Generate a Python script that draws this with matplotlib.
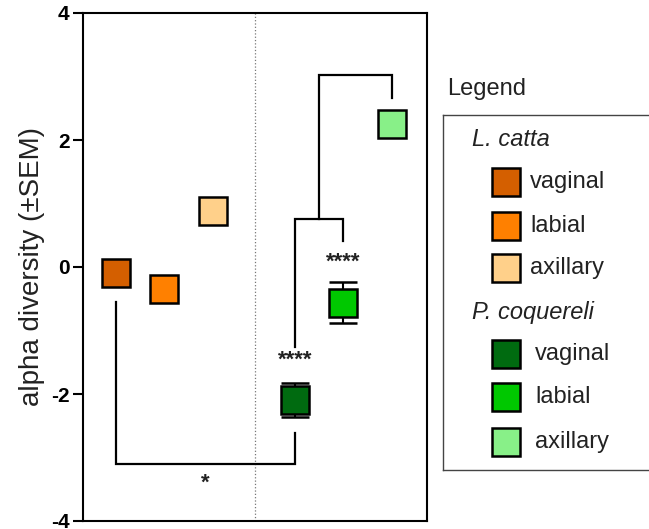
import matplotlib.pyplot as plt

plt.rcParams['font.family'] = ['Liberation Sans', 'DejaVu Sans']

# data
groups = ['vaginal', 'labial', 'axillary']
species = ['L. catta', 'P. coquereli']
x_pos = [1.0, 2.0, 3.0, 4.68, 5.68, 6.68]
means = [-0.10, -0.35, 0.88, -2.10, -0.56, 2.25]
sems = [0.20, 0.10, 0.10, 0.27, 0.32, 0.10]
colors = ['#d45f00', '#ff8000', '#ffd08a', '#006b10', '#00c800', '#88f088']

# significance brackets: (x left, x right, y left end, y right end, y bar)
brackets = [
    (1.0, 4.68, -0.55, -2.61, -3.10),
    (4.68, 5.68, -1.26, 0.41, 0.75),
    (5.18, 6.68, 0.75, 2.66, 3.03),
]
stars = [('*', 2.84, -3.40), ('****', 4.68, -1.47), ('****', 5.68, 0.07)]

fig = plt.figure(figsize=(6.49, 5.29), dpi=100)
ax = fig.add_axes([82.7 / 649, 8 / 529, 344.3 / 649, 508 / 529])

ax.errorbar(x_pos, means, yerr=sems, fmt='none', ecolor='black',
            elinewidth=1.5, capsize=10, capthick=1.8, zorder=2)
for x, m, c in zip(x_pos, means, colors):
    ax.plot(x, m, marker='s', markersize=20.5, markerfacecolor=c,
            markeredgecolor='black', markeredgewidth=1.8, zorder=3)

for xl, xr, yl, yr, yb in brackets:
    ax.plot([xl, xl, xr, xr], [yl, yb, yb, yr], color='black', lw=1.6,
            solid_joinstyle='miter', zorder=1)
for s, x, y in stars:
    ax.text(x, y, s, ha='center', va='center', fontsize=16, fontweight='bold',
            color='#222222')

ax.set_xlim(0.319, 7.40)
ax.set_ylim(-4, 4)
ax.axvline(sum(ax.get_xlim()) / 2, color='#777777', lw=0.9, ls=':', zorder=0)

ax.set_xticks([])
ax.set_yticks([-4, -2, 0, 2, 4])
ax.set_yticklabels(['-4', '-2', '0', '2', '4'], fontweight='bold', fontsize=15)
ax.tick_params(axis='y', length=7.5, width=1.5, pad=2)
for sp in ax.spines.values():
    sp.set_linewidth(1.5)
ax.set_ylabel('alpha diversity (\u00b1SEM)', fontsize=20, color='#222222', labelpad=4)

# legend drawn by hand in pixel coordinates
lax = fig.add_axes([443 / 649, 59 / 529, 226 / 649, 355 / 529])
lax.set_xlim(443, 669)
lax.set_ylim(470, 115)
lax.set_xticks([])
lax.set_yticks([])
for sp in lax.spines.values():
    sp.set_color('#444444')
    sp.set_linewidth(1.0)

fig.text(447 / 649, 1 - 89 / 529, 'Legend', fontsize=17, va='center', color='#222222')
header_y = [139, 313]
item_y = [182, 226, 268.5, 354.5, 397.5, 442]
text_x = [530, 530, 530, 535, 535, 535]
for sp_name, hy in zip(species, header_y):
    lax.text(472, hy, sp_name, style='italic', fontsize=17, va='center', color='#222222')
for i, (c, y) in enumerate(zip(colors, item_y)):
    lax.plot(506, y, marker='s', markersize=20.5, markerfacecolor=c,
             markeredgecolor='black', markeredgewidth=1.8, clip_on=False)
    lax.text(text_x[i], y, groups[i % 3], fontsize=17, va='center', color='#222222')

fig.savefig('out.png', dpi=100)
